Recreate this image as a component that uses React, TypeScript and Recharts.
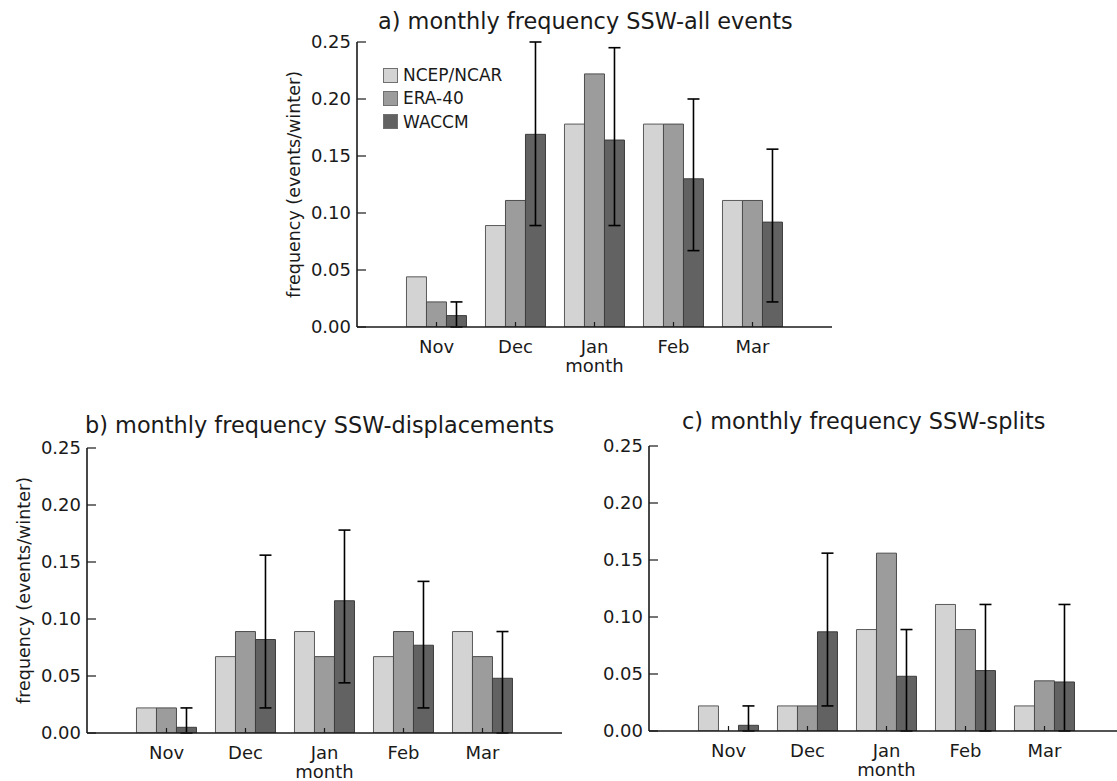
import React from 'react';
import { BarChart, Bar, XAxis, YAxis, ErrorBar, Legend } from 'recharts';

const months = ['Nov', 'Dec', 'Jan', 'Feb', 'Mar'];
const yTicks = [0, 0.05, 0.1, 0.15, 0.2, 0.25];
const seriesNames = ['NCEP/NCAR', 'ERA-40', 'WACCM'];

// a) all events
const allNcep = [0.044, 0.089, 0.178, 0.178, 0.111];
const allEra = [0.022, 0.111, 0.222, 0.178, 0.111];
const allWaccm = [0.010, 0.169, 0.164, 0.130, 0.092];
const allLow = [0.0, 0.089, 0.089, 0.067, 0.022];
const allHigh = [0.022, 0.25, 0.245, 0.200, 0.156];

// b) displacements
const dispNcep = [0.022, 0.067, 0.089, 0.067, 0.089];
const dispEra = [0.022, 0.089, 0.067, 0.089, 0.067];
const dispWaccm = [0.005, 0.082, 0.116, 0.077, 0.048];
const dispLow = [0.0, 0.022, 0.044, 0.022, 0.0];
const dispHigh = [0.022, 0.156, 0.178, 0.133, 0.089];

// c) splits
const splitNcep = [0.022, 0.022, 0.089, 0.111, 0.022];
const splitEra = [0.0, 0.022, 0.156, 0.089, 0.044];
const splitWaccm = [0.005, 0.087, 0.048, 0.053, 0.043];
const splitLow = [0.0, 0.022, 0.0, 0.0, 0.0];
const splitHigh = [0.022, 0.156, 0.089, 0.111, 0.111];

const INK = '#1a1a1a';
const PLOT_W = 475;
const PLOT_H = 285;
const AXIS_W = 90;
const AXIS_H = 50;

const buildRows = (ncep: number[], era: number[], waccm: number[], low: number[], high: number[]) =>
  months.map((m, i) => ({
    month: m,
    ncep: ncep[i],
    era: era[i],
    waccm: waccm[i],
    err: [waccm[i] - low[i], high[i] - waccm[i]],
  }));

// legend keeps the series order of the figure, not alphabetical
const renderLegend = (props: any) => {
  const items = [...(props.payload || [])].sort(
    (a: any, b: any) => seriesNames.indexOf(a.value) - seriesNames.indexOf(b.value)
  );
  return (
    <div>
      {items.map((p: any) => (
        <div key={p.value} style={{ display: 'flex', alignItems: 'center', height: 23.3 }}>
          <span style={{ width: 13, height: 13, background: p.color, border: '1px solid #707070', marginRight: 5 }} />
          <span style={{ fontSize: 17, color: INK }}>{p.value}</span>
        </div>
      ))}
    </div>
  );
};

interface PanelProps {
  rows: any[];
  left: number;
  top: number;
  yLabel?: string;
  legend?: boolean;
}

const Panel: React.FC<PanelProps> = ({ rows, left, top, yLabel, legend }) => {
  const frame = { stroke: INK, strokeWidth: 1.6 };
  return (
    <div style={{ position: 'absolute', left: left - AXIS_W, top: top - 10 }}>
      <BarChart
        width={AXIS_W + PLOT_W + 10}
        height={10 + PLOT_H + AXIS_H + 5}
        data={rows}
        margin={{ top: 10, right: 10, bottom: 5, left: 0 }}
        barCategoryGap="12%"
        barGap={0}
      >
        <XAxis
          xAxisId="b"
          dataKey="month"
          padding={{ left: 40, right: 40 }}
          height={AXIS_H}
          interval={0}
          tickSize={-5}
          tickMargin={18}
          axisLine={frame}
          tickLine={{ stroke: INK, strokeWidth: 1.2 }}
          tick={{ fontSize: 18, fill: INK }}
          label={{ value: 'month', position: 'insideBottom', offset: 5, fontSize: 18, fill: INK }}
        />
        <XAxis
          xAxisId="t"
          orientation="top"
          dataKey="month"
          padding={{ left: 40, right: 40 }}
          height={0}
          interval={0}
          tickSize={-5}
          tick={false}
          axisLine={frame}
          tickLine={{ stroke: INK, strokeWidth: 1.2 }}
        />
        <YAxis
          yAxisId="l"
          width={AXIS_W}
          domain={[0, 0.25]}
          ticks={yTicks}
          allowDataOverflow
          interval={0}
          tickSize={-9}
          tickMargin={15}
          tickFormatter={(v: number) => v.toFixed(2)}
          axisLine={frame}
          tickLine={{ stroke: INK, strokeWidth: 1.2 }}
          tick={{ fontSize: 18, fill: INK }}
          label={
            yLabel
              ? { value: yLabel, angle: -90, position: 'insideLeft', offset: 27, fontSize: 17.5, fill: INK, style: { textAnchor: 'middle' } }
              : undefined
          }
        />
        <YAxis
          yAxisId="r"
          orientation="right"
          width={0}
          domain={[0, 0.25]}
          ticks={yTicks}
          allowDataOverflow
          interval={0}
          tickSize={-9}
          tick={false}
          axisLine={frame}
          tickLine={{ stroke: INK, strokeWidth: 1.2 }}
        />
        <Bar xAxisId="b" yAxisId="l" dataKey="ncep" name={seriesNames[0]} fill="#d3d3d3" stroke="#5a5a5a" strokeWidth={1} isAnimationActive={false} />
        <Bar xAxisId="b" yAxisId="l" dataKey="era" name={seriesNames[1]} fill="#9c9c9c" stroke="#4d4d4d" strokeWidth={1} isAnimationActive={false} />
        <Bar xAxisId="b" yAxisId="l" dataKey="waccm" name={seriesNames[2]} fill="#626262" stroke="#3d3d3d" strokeWidth={1} isAnimationActive={false}>
          <ErrorBar dataKey="err" direction="y" width={6} stroke="#000" strokeWidth={1.6} isAnimationActive={false} />
        </Bar>
        {legend && (
          <Legend
            layout="vertical"
            align="center"
            verticalAlign="middle"
            content={renderLegend}
            wrapperStyle={{ left: AXIS_W + 26, top: 31.4, width: 'auto', height: 'auto' }}
          />
        )}
      </BarChart>
    </div>
  );
};

const titleStyle: React.CSSProperties = {
  position: 'absolute',
  fontSize: 22.4,
  lineHeight: '22px',
  whiteSpace: 'nowrap',
  color: INK,
};

export default function App() {
  const rowsA = buildRows(allNcep, allEra, allWaccm, allLow, allHigh);
  const rowsB = buildRows(dispNcep, dispEra, dispWaccm, dispLow, dispHigh);
  const rowsC = buildRows(splitNcep, splitEra, splitWaccm, splitLow, splitHigh);
  return (
    <div
      style={{
        position: 'absolute',
        left: 0,
        top: 0,
        width: 1117,
        height: 781,
        overflow: 'hidden',
        background: '#fff',
        fontFamily: '"DejaVu Sans", sans-serif',
      }}
    >
      <div style={{ ...titleStyle, left: 378, top: 10 }}>a) monthly frequency SSW-all events</div>
      <div style={{ ...titleStyle, left: 85, top: 414 }}>b) monthly frequency SSW-displacements</div>
      <div style={{ ...titleStyle, left: 682, top: 410 }}>c) monthly frequency SSW-splits</div>

      <Panel rows={rowsA} left={357} top={42} yLabel="frequency (events/winter)" legend />
      <Panel rows={rowsB} left={87} top={448} yLabel="frequency (events/winter)" />
      <Panel rows={rowsC} left={649} top={446} />
    </div>
  );
}
